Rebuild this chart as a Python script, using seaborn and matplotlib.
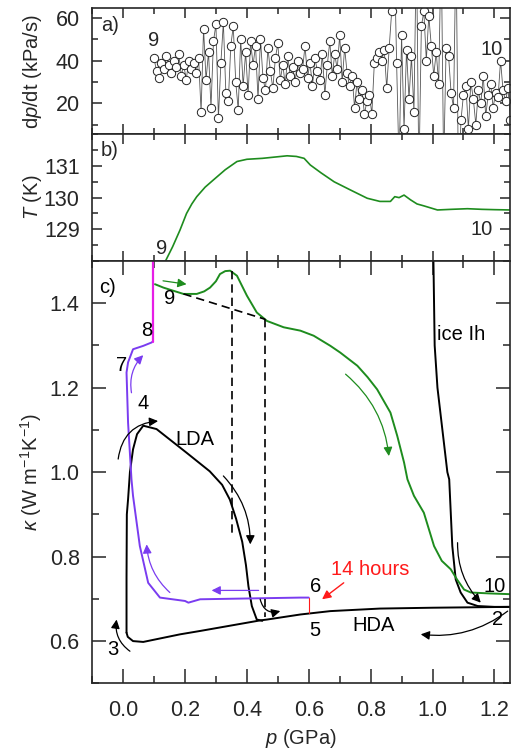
import numpy as np
import pandas as pd
import matplotlib
matplotlib.use('Agg')
import matplotlib.pyplot as plt
import seaborn as sns
from matplotlib.ticker import MultipleLocator, FixedLocator, FormatStrFormatter

# ---- panel a: dp/dt ----
rate_p = [0.100, 0.108, 0.116, 0.124, 0.132, 0.140, 0.148, 0.156, 0.164, 0.172,
          0.180, 0.188, 0.196, 0.204, 0.212, 0.220, 0.228, 0.236, 0.244, 0.252,
          0.260, 0.268, 0.276, 0.284, 0.292, 0.300, 0.308, 0.316, 0.324, 0.332,
          0.340, 0.348, 0.356, 0.364, 0.372, 0.380, 0.388, 0.396, 0.404, 0.412,
          0.420, 0.428, 0.436, 0.444, 0.452, 0.460, 0.468, 0.476, 0.484, 0.492,
          0.500, 0.508, 0.516, 0.524, 0.532, 0.540, 0.548, 0.556, 0.564, 0.572,
          0.580, 0.588, 0.596, 0.604, 0.612, 0.620, 0.628, 0.636, 0.644, 0.652,
          0.660, 0.668, 0.676, 0.684, 0.692, 0.700, 0.708, 0.716, 0.724, 0.732,
          0.740, 0.748, 0.756, 0.764, 0.772, 0.780, 0.788, 0.796, 0.804, 0.812,
          0.820, 0.828, 0.836, 0.844, 0.852, 0.860, 0.868, 0.876, 0.884, 0.892,
          0.900, 0.908, 0.916, 0.924, 0.932, 0.940, 0.948, 0.956, 0.964, 0.972,
          0.980, 0.988, 0.996, 1.004, 1.012, 1.020, 1.028, 1.036, 1.044, 1.052,
          1.060, 1.068, 1.076, 1.084, 1.092, 1.100, 1.108, 1.116, 1.124, 1.132,
          1.140, 1.148, 1.156, 1.164, 1.172, 1.180, 1.188, 1.196, 1.204, 1.212,
          1.220, 1.228, 1.236, 1.244, 1.252]
rate = [41, 35, 32, 39, 36, 42, 38, 34, 40, 37,
        43, 33, 38, 31, 40, 36, 39, 34, 41, 16,
        55, 31, 44, 18, 49, 57, 13, 39, 58, 25,
        21, 47, 56, 30, 17, 50, 28, 44, 24, 49,
        38, 47, 22, 50, 32, 26, 46, 35, 27, 41,
        48, 31, 38, 29, 42, 33, 37, 30, 40, 34,
        36, 47, 32, 39, 28, 41, 35, 31, 43, 24,
        38, 49, 33, 43, 36, 52, 30, 46, 34, 28,
        33, 18, 30, 22, 26, 15, 21, 24, 15, 39,
        41, 44, 40, 45, 27, 46, 63, 95, 39, -10,
        52, 8, 45, 22, 42, 16, 95, -15, 56, 63,
        40, 61, 47, 33, 44, 29, 95, -10, 46, 42,
        25, 18, 95, -20, 12, 24, 28, 8, 30, 22,
        10, 26, 20, 33, 14, 24, 29, 18, 25, 23,
        40, 26, 21, 27, 12]
rate_ticks = [20, 40, 60]

# ---- panel b: temperature ----
temp_p = [0.137, 0.160, 0.184, 0.205, 0.222, 0.238, 0.265, 0.292, 0.330, 0.368,
          0.400, 0.450, 0.500, 0.530, 0.560, 0.585, 0.605, 0.640, 0.682, 0.735,
          0.789, 0.830, 0.864, 0.878, 0.892, 0.908, 0.929, 0.950, 0.972, 1.016,
          1.060, 1.113, 1.160, 1.200, 1.253]
temp_K = [128.0, 128.45, 128.98, 129.5, 129.8, 130.03, 130.33, 130.56, 130.88, 131.14,
          131.21, 131.24, 131.29, 131.32, 131.30, 131.24, 131.03, 130.78, 130.5, 130.24,
          129.98, 129.88, 129.88, 130.03, 130.0, 130.08, 129.93, 129.8, 129.74, 129.61,
          129.63, 129.65, 129.63, 129.62, 129.61]
temp_ticks = [129, 130, 131]

# ---- panel c: thermal conductivity ----
ice_p = [1.000, 1.003, 1.007, 1.016, 1.032, 1.048, 1.054, 1.059, 1.064, 1.075,
         1.091, 1.113, 1.146, 1.200, 1.250]
ice_k = [1.55, 1.50, 1.30, 1.20, 1.10, 1.00, 0.983, 0.904, 0.825, 0.746,
         0.715, 0.691, 0.683, 0.681, 0.681]

hda_p = [1.250, 1.000, 0.830, 0.670, 0.573, 0.465, 0.443, 0.249, 0.184, 0.065,
         0.032, 0.015, 0.011]
hda_k = [0.681, 0.679, 0.677, 0.671, 0.663, 0.651, 0.649, 0.624, 0.616, 0.598,
         0.600, 0.610, 0.620]

lda_p = [0.011, 0.011, 0.012, 0.016, 0.022, 0.032, 0.045, 0.065, 0.108, 0.205,
         0.280, 0.320, 0.345, 0.365, 0.385, 0.397, 0.405, 0.416, 0.432, 0.450]
lda_k = [0.620, 0.750, 0.900, 0.936, 1.000, 1.054, 1.090, 1.110, 1.102, 1.046,
         1.002, 0.970, 0.935, 0.890, 0.835, 0.780, 0.730, 0.683, 0.651, 0.648]

purple_p = [0.600, 0.573, 0.249, 0.211, 0.200, 0.119, 0.081, 0.054, 0.032, 0.027,
            0.016, 0.011, 0.016, 0.032, 0.065, 0.092, 0.097]
purple_k = [0.703, 0.703, 0.699, 0.691, 0.695, 0.703, 0.738, 0.825, 0.944, 0.983,
            1.117, 1.236, 1.260, 1.291, 1.299, 1.307, 1.310]

heat_p = [0.097, 0.097]
heat_k = [1.307, 1.500]

hold_p = [0.600, 0.600]
hold_k = [0.667, 0.703]

green_p = [0.103, 0.130, 0.160, 0.195, 0.238, 0.262, 0.281, 0.300, 0.313, 0.330,
           0.346, 0.368, 0.385, 0.400, 0.432, 0.465, 0.519, 0.573, 0.616, 0.670,
           0.702, 0.757, 0.790, 0.821, 0.864, 0.886, 0.908, 0.919, 0.940, 0.972,
           1.005, 1.030, 1.059, 1.080, 1.102, 1.124, 1.180, 1.253]
green_k = [1.445, 1.437, 1.430, 1.422, 1.422, 1.428, 1.437, 1.452, 1.469, 1.476,
           1.477, 1.465, 1.440, 1.418, 1.378, 1.358, 1.343, 1.335, 1.323, 1.299,
           1.283, 1.252, 1.225, 1.196, 1.141, 1.086, 1.023, 0.983, 0.944, 0.904,
           0.825, 0.790, 0.770, 0.745, 0.722, 0.715, 0.713, 0.711]

dash_diag_p = [0.195, 0.459]
dash_diag_k = [1.422, 1.362]
dash_a_p = [0.353, 0.353]
dash_a_k = [1.477, 0.850]
dash_b_p = [0.457, 0.457]
dash_b_k = [1.362, 0.656]

GREEN = '#1e8c1e'
PURPLE = '#7a3cf0'
MAGENTA = '#e61ee6'
RED = '#ff1a1a'

sns.set_style('ticks')
plt.rcParams['font.family'] = ['Liberation Sans', 'DejaVu Sans']
plt.rcParams['mathtext.fontset'] = 'custom'
plt.rcParams['mathtext.rm'] = 'Liberation Sans'
plt.rcParams['mathtext.it'] = 'Liberation Sans:italic'
plt.rcParams['axes.linewidth'] = 1.2
FS_TICK = 15.5
FS_LAB = 14.5
FS_TXT = 14.5

fig = plt.figure(figsize=(5.15, 7.5), dpi=100)
gs = fig.add_gridspec(3, 1, height_ratios=[126, 126.7, 422.3], hspace=0,
                      left=0.179, right=0.990, top=0.989, bottom=0.0889)
ax_a = fig.add_subplot(gs[0])
ax_b = fig.add_subplot(gs[1], sharex=ax_a)
ax_c = fig.add_subplot(gs[2], sharex=ax_a)

# panel a
sns.lineplot(x=rate_p, y=rate, sort=False, estimator=None, color='#555555',
             lw=0.6, ax=ax_a, zorder=1)
sns.scatterplot(x=rate_p, y=rate, marker='o', s=36, facecolor='white',
                edgecolor='#222222', linewidth=0.7, ax=ax_a, zorder=2)
ax_a.set_ylim(5.5, 64.5)
ax_a.yaxis.set_major_locator(FixedLocator(rate_ticks))
ax_a.yaxis.set_minor_locator(MultipleLocator(10))
ax_a.set_ylabel(r'd$\it{p}$/dt (kPa/s)', fontsize=FS_LAB)
ax_a.text(-0.043, 56.6, 'a)', fontsize=FS_TXT, ha='center', va='center')
ax_a.text(0.097, 49.6, '9', fontsize=FS_TXT, ha='center', va='center')
ax_a.text(1.19, 45, '10', fontsize=FS_TXT, ha='center', va='center')

# panel b
sns.lineplot(x=temp_p, y=temp_K, sort=False, estimator=None, color=GREEN,
             lw=1.2, ax=ax_b)
ax_b.set_ylim(128, 132)
ax_b.yaxis.set_major_locator(FixedLocator(temp_ticks))
ax_b.yaxis.set_minor_locator(MultipleLocator(0.5))
ax_b.set_ylabel(r'$\it{T}$ (K)', fontsize=FS_LAB)
ax_b.text(-0.043, 131.5, 'b)', fontsize=FS_TXT, ha='center', va='center')
ax_b.text(0.124, 128.39, '9', fontsize=FS_TXT, ha='center', va='center')
ax_b.text(1.16, 129.0, '10', fontsize=FS_TXT, ha='center', va='center')

# panel c
for xs, ys, col, w in [(ice_p, ice_k, 'black', 1.4), (hda_p, hda_k, 'black', 1.4),
                       (lda_p, lda_k, 'black', 1.4), (purple_p, purple_k, PURPLE, 1.4),
                       (heat_p, heat_k, MAGENTA, 1.6), (hold_p, hold_k, RED, 0.8),
                       (green_p, green_k, GREEN, 1.4)]:
    sns.lineplot(x=xs, y=ys, sort=False, estimator=None, color=col, lw=w, ax=ax_c)
for xs, ys in [(dash_diag_p, dash_diag_k), (dash_a_p, dash_a_k), (dash_b_p, dash_b_k)]:
    sns.lineplot(x=xs, y=ys, sort=False, estimator=None, color='black', lw=1.2,
                 linestyle=(0, (5, 3)), ax=ax_c)


def arrow(start, end, col='black', rad=0.0, lw=0.9):
    ax_c.annotate('', xy=end, xytext=start,
                  arrowprops=dict(arrowstyle='-|>', color=col, lw=lw, mutation_scale=13,
                                  shrinkA=0, shrinkB=0,
                                  connectionstyle=f'arc3,rad={rad}'))


arrow((-0.016, 1.031), (0.113, 1.121), rad=-0.4)
arrow((0.022, 0.576), (-0.021, 0.651), rad=-0.3)
arrow((0.324, 0.991), (0.411, 0.829), rad=-0.2)
arrow((0.443, 0.699), (0.508, 0.671), rad=0.5)
arrow((1.081, 0.833), (1.156, 0.691), rad=0.2)
arrow((1.243, 0.671), (0.962, 0.616), rad=-0.2)
arrow((0.438, 0.720), (0.286, 0.720), col=PURPLE)
arrow((0.151, 0.715), (0.076, 0.829), col=PURPLE, rad=-0.2)
arrow((0.027, 1.188), (0.065, 1.277), col=PURPLE, rad=-0.25)
arrow((0.129, 1.453), (0.205, 1.445), col=GREEN)
arrow((0.719, 1.232), (0.859, 1.038), col=GREEN, rad=-0.2)
arrow((0.713, 0.738), (0.643, 0.699), col=RED, lw=1.0)

ax_c.set_ylim(0.5, 1.5)
ax_c.set_xlim(-0.1, 1.25)
ax_c.yaxis.set_major_locator(MultipleLocator(0.2))
ax_c.yaxis.set_minor_locator(MultipleLocator(0.1))
ax_c.yaxis.set_major_formatter(FormatStrFormatter('%.1f'))
ax_c.xaxis.set_major_locator(MultipleLocator(0.2))
ax_c.xaxis.set_minor_locator(MultipleLocator(0.1))
ax_c.xaxis.set_major_formatter(FormatStrFormatter('%.1f'))
ax_c.set_ylabel(r'$\kappa$ (W m$^{-1}$K$^{-1}$)', fontsize=FS_LAB)
ax_c.set_xlabel(r'$\it{p}$ (GPa)', fontsize=FS_LAB)

labels_c = [('c)', -0.049, 1.437, 'black'), ('9', 0.151, 1.410, 'black'),
            ('8', 0.076, 1.335, 'black'), ('7', -0.005, 1.252, 'black'),
            ('4', 0.065, 1.163, 'black'), ('LDA', 0.232, 1.078, 'black'),
            ('ice Ih', 1.091, 1.325, 'black'), ('3', -0.032, 0.580, 'black'),
            ('6', 0.621, 0.730, 'black'), ('5', 0.621, 0.624, 'black'),
            ('HDA', 0.810, 0.636, 'black'), ('10', 1.200, 0.730, 'black'),
            ('2', 1.210, 0.651, 'black'), ('14 hours', 0.800, 0.770, RED)]
for t, x, y, c in labels_c:
    ax_c.text(x, y, t, fontsize=FS_TXT, ha='center', va='center', color=c)

for ax in (ax_a, ax_b, ax_c):
    ax.tick_params(which='both', direction='in', top=True, right=True,
                   labelsize=FS_TICK, width=1.1)
    ax.yaxis.set_label_coords(-0.115, 0.5)
ax_c.tick_params(which='major', length=10, pad=9)
ax_c.tick_params(which='minor', length=5)
for ax in (ax_a, ax_b):
    ax.tick_params(which='major', length=7, pad=9)
    ax.tick_params(which='minor', length=4)
    ax.tick_params(labelbottom=False)
ax_c.tick_params(axis='x', pad=12)

fig.savefig('out.png', dpi=100)
